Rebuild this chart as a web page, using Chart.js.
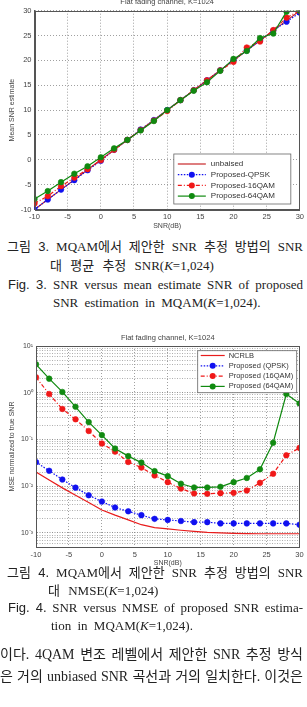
<!DOCTYPE html>
<html>
<head>
<meta charset="utf-8">
<script src="https://cdn.jsdelivr.net/npm/chart.js@4.4.0/dist/chart.umd.min.js"></script>
<style>
body{margin:0;background:#fff;width:307px;height:707px;overflow:hidden;position:relative;}
canvas{position:absolute;left:0;}
.ln{position:absolute;font-family:"Liberation Serif","Noto Sans CJK KR",serif;font-size:13px;line-height:16px;white-space:nowrap;color:#222;}
.j{text-align:justify;text-align-last:justify;}
.sans{font-family:"Liberation Sans","Noto Sans CJK KR",sans-serif;}
.body{font-size:14px;line-height:18px;}
</style>
</head>
<body>
<canvas id="estChart" width="307" height="232" style="top:0px"></canvas>

<div class="ln j" style="top:239px;left:7px;width:296px;"><span class="sans">그림 3.</span> MQAM에서 제안한 SNR 추정 방법의 SNR</div>
<div class="ln" style="top:258px;left:50px;word-spacing:5px;">대 평균 추정 SNR(<i>K</i>=1,024)</div>
<div class="ln j" style="top:277px;left:8px;width:295px;"><span class="sans">Fig. 3.</span> SNR versus mean estimate SNR of proposed</div>
<div class="ln" style="top:295px;left:53px;word-spacing:3px;">SNR estimation in MQAM(<i>K</i>=1,024).</div>

<canvas id="nmseChart" width="307" height="240" style="top:328px"></canvas>

<div class="ln j" style="top:565px;left:7px;width:296px;"><span class="sans">그림 4.</span> MQAM에서 제안한 SNR 추정 방법의 SNR</div>
<div class="ln" style="top:583px;left:48px;word-spacing:5px;">대 NMSE(<i>K</i>=1,024)</div>
<div class="ln j" style="top:600px;left:8px;width:295px;"><span class="sans">Fig. 4.</span> SNR versus NMSE of proposed SNR estima-</div>
<div class="ln" style="top:618px;left:51px;word-spacing:3px;">tion in MQAM(<i>K</i>=1,024).</div>

<div class="ln j body" style="top:646px;left:0px;width:303px;">이다. 4QAM 변조 레벨에서 제안한 SNR 추정 방식</div>
<div class="ln j body" style="top:668px;left:0px;width:303px;">은 거의 unbiased SNR 곡선과 거의 일치한다. 이것은</div>

<script>
// x values shared by both figures
const snr = [-10, -8, -6, -4, -2, 0, 2, 4, 6, 8, 10, 12, 14, 16, 18, 20, 22, 24, 26, 28, 30];
const snrTicks = [-10, -5, 0, 5, 10, 15, 20, 25, 30];

// Fig. 3 - mean SNR estimate
const estTicks = [-10, -5, 0, 5, 10, 15, 20, 25, 30];
const unbiased = [-10, -8, -6, -4, -2, 0, 2, 4, 6, 8, 10, 12, 14, 16, 18, 20, 22, 24, 26, 28, 30];
const estQpsk = [-10, -8, -6, -4.1, -2.1, -0.2, 2, 4, 6.1, 8, 10, 12, 14, 16, 18, 20, 22, 24, 26, 27.8, 29.6];
const est16qam = [-8.8, -7.3, -5.3, -3.6, -1.9, -0.1, 2, 4, 6, 7.9, 9.8, 12, 14, 16, 18, 19.7, 22.6, 23.8, 26.1, 28.6, 30];
const est64qam = [-7.9, -6.3, -4.5, -2.8, -1.3, 0.5, 2.3, 4, 5.9, 7.8, 10, 12, 13.9, 15.6, 17.9, 20.3, 21.9, 24.5, 25.4, 29.8, 30];

// Fig. 4 - NMSE
const nmseMajor = [1e-3, 1e-2, 1e-1, 1, 10];
const nmseLabels = ['10\u207B\u00B3', '10\u207B\u00B2', '10\u207B\u00B9', '10\u2070', '10\u00B9'];
const ncrlb = [0.020, 0.0135, 0.0092, 0.0064, 0.0045, 0.0031, 0.0024, 0.0019, 0.0015, 0.0013, 0.00122, 0.00114, 0.00108, 0.00103, 0.00100, 0.00098, 0.00097, 0.00096, 0.00096, 0.00096, 0.00096];
const nmseQpsk = [0.0327, 0.0214, 0.0139, 0.0093, 0.0064, 0.0047, 0.0035, 0.0029, 0.0024, 0.0020, 0.0019, 0.0018, 0.0017, 0.0017, 0.0016, 0.0016, 0.0016, 0.0016, 0.0016, 0.0016, 0.0015];
const nmse16qam = [2.14, 0.94, 0.45, 0.27, 0.152, 0.082, 0.055, 0.033, 0.025, 0.017, 0.0122, 0.0089, 0.0070, 0.0069, 0.0071, 0.0072, 0.0081, 0.0118, 0.0185, 0.046, 0.066];
const nmse64qam = [4.06, 2.0, 1.04, 0.50, 0.235, 0.124, 0.064, 0.044, 0.032, 0.021, 0.0164, 0.0113, 0.0094, 0.0094, 0.0097, 0.0122, 0.015, 0.023, 0.085, 0.94, 0.59];

const FONT = '"Liberation Sans", Arial, sans-serif';
const TXT = '#444';

function pts(ys) {
    return snr.map((x, i) => ({x: x, y: ys[i]}));
}

function series(label, ys, color, dash, marker, order) {
    return {
        label: label,
        data: pts(ys),
        borderColor: color,
        backgroundColor: color,
        borderWidth: 1.2,
        borderDash: dash,
        pointRadius: marker ? 2.8 : 0,
        pointBorderWidth: 0.6,
        pointBackgroundColor: color,
        pointBorderColor: color,
        tension: 0,
        order: order
    };
}

// frame around the plot, title over it and a matlab-like legend box inside
const framePlugin = {
    id: 'frame',
    afterDraw(chart, args, opts) {
        const ctx = chart.ctx;
        const a = chart.chartArea;
        ctx.save();
        ctx.strokeStyle = '#555';
        ctx.lineWidth = 1;
        ctx.setLineDash([]);
        ctx.strokeRect(Math.round(a.left) + 0.5, Math.round(a.top) + 0.5, Math.round(a.right - a.left) - 1, Math.round(a.bottom - a.top));

        ctx.fillStyle = TXT;
        ctx.font = '7.5px ' + FONT;
        ctx.textAlign = 'center';
        ctx.textBaseline = 'middle';
        ctx.fillText(opts.title, (a.left + a.right) / 2, a.top - opts.titleGap);

        const L = opts.legend;
        const x0 = a.right - L.right - L.width;
        const y0 = L.top != null ? a.top + L.top : a.bottom - L.bottom - L.height;
        ctx.fillStyle = '#fff';
        ctx.fillRect(x0, y0, L.width, L.height);
        ctx.strokeStyle = '#666';
        ctx.lineWidth = 0.8;
        ctx.strokeRect(x0, y0, L.width, L.height);

        ctx.font = L.size + 'px ' + FONT;
        ctx.textAlign = 'left';
        chart.data.datasets.forEach((ds, i) => {
            const y = y0 + L.rowTop + i * L.rowGap;
            ctx.strokeStyle = ds.borderColor;
            ctx.lineWidth = 1.2;
            ctx.setLineDash(ds.borderDash || []);
            ctx.beginPath();
            ctx.moveTo(x0 + L.lineStart, y);
            ctx.lineTo(x0 + L.lineEnd, y);
            ctx.stroke();
            ctx.setLineDash([]);
            if (ds.pointRadius > 0) {
                ctx.fillStyle = ds.borderColor;
                ctx.beginPath();
                ctx.arc(x0 + (L.lineStart + L.lineEnd) / 2, y, 3, 0, Math.PI * 2);
                ctx.fill();
            }
            ctx.fillStyle = '#333';
            ctx.fillText(ds.label, x0 + L.textX, y);
        });
        ctx.restore();
    }
};

function xAxis(height, titlePad) {
    return {
        type: 'linear',
        min: -10,
        max: 30,
        afterBuildTicks: s => { s.ticks = snrTicks.map(v => ({value: v})); },
        afterFit: s => { s.height = height; },
        grid: {color: '#888', lineWidth: 0.8, drawTicks: false},
        border: {color: '#555', dash: [1, 2]},
        ticks: {autoSkip: false, maxRotation: 0, padding: 3, color: TXT, font: {family: FONT, size: 7.5}},
        title: {display: true, text: 'SNR(dB)', color: TXT, font: {family: FONT, size: 7}, padding: {top: 0, bottom: titlePad}}
    };
}

Chart.defaults.animation = false;

new Chart(document.getElementById('estChart'), {
    type: 'line',
    data: {
        datasets: [
            series('unbaised', unbiased, '#c8282a', [], false, 3),
            series('Proposed-QPSK', estQpsk, '#1010f0', [1.5, 1.5], true, 2),
            series('Proposed-16QAM', est16qam, '#f01818', [4, 2, 1, 2], true, 1),
            series('Proposed-64QAM', est64qam, '#108a10', [], true, 0)
        ]
    },
    options: {
        responsive: false,
        layout: {padding: {top: 10.7, right: 6, left: 0, bottom: 0}},
        plugins: {
            legend: {display: false},
            tooltip: {enabled: false},
            frame: {
                title: 'Flat fading channel, K=1024',
                titleGap: 8.7,
                legend: {right: 9, bottom: 5.5, width: 117, height: 50, rowTop: 10, rowGap: 10.7, lineStart: 4, lineEnd: 32, textX: 37, size: 8}
            }
        },
        scales: {
            x: xAxis(22.5, 1.8),
            y: {
                type: 'linear',
                min: -10,
                max: 30,
                afterBuildTicks: s => { s.ticks = estTicks.map(v => ({value: v})); },
                afterFit: s => { s.width = 34.5; },
                grid: {color: '#888', lineWidth: 0.8, drawTicks: false},
                border: {color: '#555', dash: [1, 2]},
                ticks: {autoSkip: false, padding: 3, color: TXT, font: {family: FONT, size: 7.5}},
                title: {display: true, text: 'Mean SNR estimate', color: TXT, font: {family: FONT, size: 7}, padding: {top: 7.8, bottom: 0}}
            }
        }
    },
    plugins: [framePlugin]
});

// log ticks: decades plus 2..9 sub-divisions, starting at 5e-4
const nmseTicks = [5e-4, 6e-4, 7e-4, 8e-4, 9e-4];
nmseMajor.forEach(d => {
    nmseTicks.push(d);
    if (d < 10) {
        for (let k = 2; k <= 9; k++) nmseTicks.push(+(k * d).toPrecision(3));
    }
});

new Chart(document.getElementById('nmseChart'), {
    type: 'line',
    data: {
        datasets: [
            series('NCRLB', ncrlb, '#e81c1c', [], false, 3),
            series('Proposed (QPSK)', nmseQpsk, '#1010f0', [1.5, 1.5], true, 2),
            series('Proposed (16QAM)', nmse16qam, '#f01818', [4, 2, 1, 2], true, 1),
            series('Proposed (64QAM)', nmse64qam, '#108a10', [], true, 0)
        ]
    },
    options: {
        responsive: false,
        layout: {padding: {top: 18, right: 7.5, left: 0, bottom: 0}},
        plugins: {
            legend: {display: false},
            tooltip: {enabled: false},
            frame: {
                title: 'Flat fading channel, K=1024',
                titleGap: 7.7,
                legend: {right: 2.8, top: 4.7, width: 99, height: 42, rowTop: 4.8, rowGap: 10.3, lineStart: 3, lineEnd: 27, textX: 31, size: 7.5}
            }
        },
        scales: {
            x: xAxis(21, 0.8),
            y: {
                type: 'logarithmic',
                min: 5e-4,
                max: 10,
                afterBuildTicks: s => { s.ticks = nmseTicks.map(v => ({value: v})); },
                afterFit: s => { s.width = 36; },
                grid: {
                    color: c => (c.tick && nmseMajor.includes(c.tick.value)) ? '#777' : '#999',
                    lineWidth: 0.8,
                    drawTicks: false
                },
                border: {color: '#555', dash: [1, 1.5]},
                ticks: {
                    autoSkip: false,
                    padding: 3,
                    color: TXT,
                    font: {family: FONT, size: 7},
                    callback: v => {
                        const i = nmseMajor.indexOf(v);
                        return i >= 0 ? nmseLabels[i] : '';
                    }
                },
                title: {display: true, text: 'MSE normalized to true SNR', color: TXT, font: {family: FONT, size: 7}, padding: {top: 7.8, bottom: 0}}
            }
        }
    },
    plugins: [framePlugin]
});
</script>
</body>
</html>
